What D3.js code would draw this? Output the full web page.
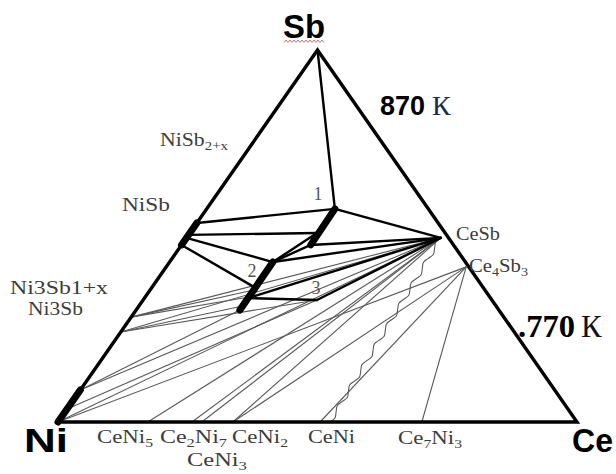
<!DOCTYPE html>
<html>
<head>
<meta charset="utf-8">
<script src="https://cdn.jsdelivr.net/npm/d3@7"></script>
<style>
  body { margin: 0; background: #fff; }
  svg { display: block; }
</style>
</head>
<body>
<svg id="chart" width="616" height="474"></svg>
<script>
// Ce–Ni–Sb isothermal sections; every composition is [Ni, Sb, Ce] in at.%

// Pure elements at the corners
const corners = { Ni: [100, 0, 0], Sb: [0, 100, 0], Ce: [0, 0, 100] };

// Points on the Ni–Sb side, Sb at.%
const niSbSide = {
  NiSbHi: 53.5, NiSbB: 50.3, NiSbC: 49.5, NiSbLo: 47.6,
  Ni3Sb1x: 28.2, Ni3Sb: 24.2, NiSs: 8.6, NiSs2: 3.5
};

// Points on the Ni–Ce side, Ce at.%
const niCeSide = {
  CeNi5: 17.3, Ce2Ni7: 25.8, CeNi3: 27.7, CeNi2: 33.7,
  CeNi: 50.5, CeNiB: 52.4, Ce7Ni3: 70.1
};

// Ternary and Ce–Sb phases [Ni, Sb, Ce]
const phases = {
  P1: [18.0, 57.3, 24.7],
  T1m: [24.7, 50.8, 24.5],
  T1b: [27.5, 47.6, 24.9],
  P2: [37.1, 43.0, 19.9],
  T2a: [44.5, 35.5, 20.0],
  T2m: [44.3, 36.6, 19.1],
  T2c: [46.4, 33.6, 20.0],
  T2l: [46.8, 33.3, 19.9],
  T2d: [48.8, 31.2, 20.0],
  T2b: [49.9, 30.1, 20.0],
  P3: [33.7, 32.8, 33.5],
  CeSb: [1.5, 49.5, 49.0],
  Ce4Sb3: [0.5, 41.7, 57.8]
};

// 870 K: homogeneity ranges (heavy strokes) and tie-lines
const ranges870 = [["P1", "T1b"], ["P2", "T2b"], ["NiSbHi", "NiSbLo"], ["Ni", "NiSs"]];
const ties870 = [
  ["Sb", "P1"], ["NiSbHi", "P1"], ["NiSbB", "T1m"], ["NiSbC", "P2"], ["NiSbLo", "T2m"],
  ["P1", "CeSb"], ["T1b", "CeSb"], ["P2", "T1b"], ["P2", "T1m"], ["P2", "CeSb"],
  ["T2l", "P3"], ["T2l", "CeSb"], ["P3", "CeSb"]
];

// 770 K: tie-lines
const ties770 = [
  ["Ni3Sb1x", "T2a"], ["Ni3Sb1x", "T2c"], ["Ni3Sb", "T2d"], ["Ni3Sb", "P3"],
  ["Ni3Sb1x", "CeSb"], ["Ni3Sb", "CeSb"],
  ["NiSs", "T2b"], ["NiSs", "CeSb"], ["NiSs2", "P3"],
  ["Ni", "CeSb"], ["Ni", "Ce4Sb3"],
  ["CeNi5", "CeSb"], ["Ce2Ni7", "CeSb"], ["CeNi3", "CeSb"], ["CeNi2", "CeSb"],
  ["CeNi2", "Ce4Sb3"], ["CeNi", "Ce4Sb3"], ["Ce7Ni3", "Ce4Sb3"]
];
const wavy770 = [["CeNiB", "CeSb"]];

// Phase labels (serif); sub-scripts written after "_" in braces
const labelNames = ["NiSb_{2+x}", "NiSb", "Ni3Sb1+x", "Ni3Sb", "CeSb", "Ce_{4}Sb_{3}",
  "CeNi_{5}", "Ce_{2}Ni_{7}", "CeNi_{2}", "CeNi_{3}", "CeNi", "Ce_{7}Ni_{3}"];
const labelSpots = [
  [160, 146, 68], [122, 211, 48], [10, 294, 98], [28, 315, 55], [456, 240, 44], [469, 272, 59],
  [97, 443, 56], [160, 443, 67], [232, 443, 56], [187, 466, 60], [308, 443, 47], [398, 444, 64]
];
const pointNumbers = ["1", "2", "3"];
const pointNumberSpots = [[318, 200], [252, 277], [316, 294]];

// ---------------------------------------------------------------
const svg = d3.select("#chart");

// Cartesian frame of the triangle: X = Ce + Sb/2, Y = Sb (fractions)
const x = d3.scaleLinear().domain([0, 1]).range([58, 577]);
const y = d3.scaleLinear().domain([0, 1]).range([422, 50]);

function comp(name) {
  if (corners[name]) return corners[name];
  if (phases[name]) return phases[name];
  if (name in niSbSide) return [100 - niSbSide[name], niSbSide[name], 0];
  if (name in niCeSide) return [100 - niCeSide[name], 0, niCeSide[name]];
  throw new Error("unknown " + name);
}
function pos(name) {
  const c = comp(name);
  const sb = c[1] / 100, ce = c[2] / 100;
  return [x(ce + sb / 2), y(sb)];
}

const seg = d3.line();

// 770 K tie-lines (thin)
svg.append("g")
  .selectAll("path").data(ties770).join("path")
  .attr("d", d => seg([pos(d[0]), pos(d[1])]))
  .attr("fill", "none").attr("stroke", "#5a5a5a").attr("stroke-width", 1.1);

// 770 K serrated boundary
svg.append("g")
  .selectAll("path").data(wavy770).join("path")
  .attr("d", d => {
    const a = pos(d[0]), b = pos(d[1]);
    const len = Math.hypot(b[0] - a[0], b[1] - a[1]);
    const ux = (b[0] - a[0]) / len, uy = (b[1] - a[1]) / len;
    const n = Math.round(len / 6);
    const pts = d3.range(n + 1).map(i => {
      const t = i / n, off = (i % 2 === 0 ? 0 : (i % 4 === 1 ? 2.2 : -2.2));
      return [a[0] + (b[0] - a[0]) * t - uy * off, a[1] + (b[1] - a[1]) * t + ux * off];
    });
    return d3.line().curve(d3.curveCardinal)(pts);
  })
  .attr("fill", "none").attr("stroke", "#5a5a5a").attr("stroke-width", 1.1);

// Triangle frame
svg.append("path")
  .attr("d", seg([pos("Ni"), pos("Sb"), pos("Ce")]) + "Z")
  .attr("fill", "none").attr("stroke", "#000").attr("stroke-width", 3.4)
  .attr("stroke-linejoin", "miter");

// 870 K tie-lines
svg.append("g")
  .selectAll("path").data(ties870).join("path")
  .attr("d", d => seg([pos(d[0]), pos(d[1])]))
  .attr("fill", "none").attr("stroke", "#000").attr("stroke-width", 2.4)
  .attr("stroke-linecap", "round");

// Homogeneity ranges
svg.append("g")
  .selectAll("path").data(ranges870).join("path")
  .attr("d", d => seg([pos(d[0]), pos(d[1])]))
  .attr("fill", "none").attr("stroke", "#000").attr("stroke-width", 7)
  .attr("stroke-linecap", "round");

// Labels with subscripts
function addRich(sel, s, subSize) {
  const parts = s.split(/_\{([^}]*)\}/);
  parts.forEach((p, i) => {
    if (!p) return;
    const t = sel.append("tspan").text(p);
    if (i % 2 === 1) t.attr("font-size", subSize).attr("dy", 4);
    else if (i > 0) t.attr("dy", -4);
  });
}
const lab = svg.append("g")
  .attr("font-family", "'Liberation Serif', 'Times New Roman', serif")
  .attr("font-size", 19).attr("fill", "#3c3c3c");
labelNames.forEach((s, i) => {
  const [lx, ly, w] = labelSpots[i];
  const t = lab.append("text").attr("x", lx).attr("y", ly)
    .attr("textLength", w).attr("lengthAdjust", "spacingAndGlyphs");
  addRich(t, s, 13);
});
pointNumbers.forEach((s, i) => {
  lab.append("text").attr("x", pointNumberSpots[i][0]).attr("y", pointNumberSpots[i][1])
    .attr("text-anchor", "middle").attr("font-size", 18).attr("fill", "#555").text(s);
});

// Element symbols
const big = svg.append("g")
  .attr("font-family", "'Liberation Sans', Arial, sans-serif")
  .attr("font-weight", "bold").attr("font-size", 33).attr("fill", "#000");
big.append("text").attr("x", 283).attr("y", 38).attr("textLength", 42)
  .attr("lengthAdjust", "spacingAndGlyphs").text("Sb");
big.append("text").attr("x", 24).attr("y", 452).attr("textLength", 44)
  .attr("lengthAdjust", "spacingAndGlyphs").text("Ni");
big.append("text").attr("x", 572).attr("y", 452).attr("textLength", 41)
  .attr("lengthAdjust", "spacingAndGlyphs").text("Ce");

// Spell-check squiggle under Sb
svg.append("path")
  .attr("d", d3.line()(d3.range(0, 41, 2).map((v, i) => [284 + v, i % 2 ? 40 : 42.5])))
  .attr("fill", "none").attr("stroke", "#c0504d").attr("stroke-width", 0.8);

// Temperatures
svg.append("text").attr("x", 380).attr("y", 115)
  .attr("font-family", "'Liberation Sans', Arial, sans-serif").attr("font-weight", "bold")
  .attr("font-size", 27).attr("textLength", 45).attr("lengthAdjust", "spacingAndGlyphs")
  .text("870");
svg.append("text").attr("x", 432).attr("y", 115)
  .attr("font-family", "'Liberation Serif', 'Times New Roman', serif")
  .attr("font-size", 28).attr("fill", "#1a2a48").text("К");
svg.append("text").attr("x", 518).attr("y", 337)
  .attr("font-family", "'Liberation Serif', 'Times New Roman', serif").attr("font-weight", "bold")
  .attr("font-size", 32).attr("textLength", 57).attr("lengthAdjust", "spacingAndGlyphs")
  .text(".770");
svg.append("text").attr("x", 581).attr("y", 337)
  .attr("font-family", "'Liberation Serif', 'Times New Roman', serif")
  .attr("font-size", 31).attr("fill", "#111").text("К");
</script>
</body>
</html>
